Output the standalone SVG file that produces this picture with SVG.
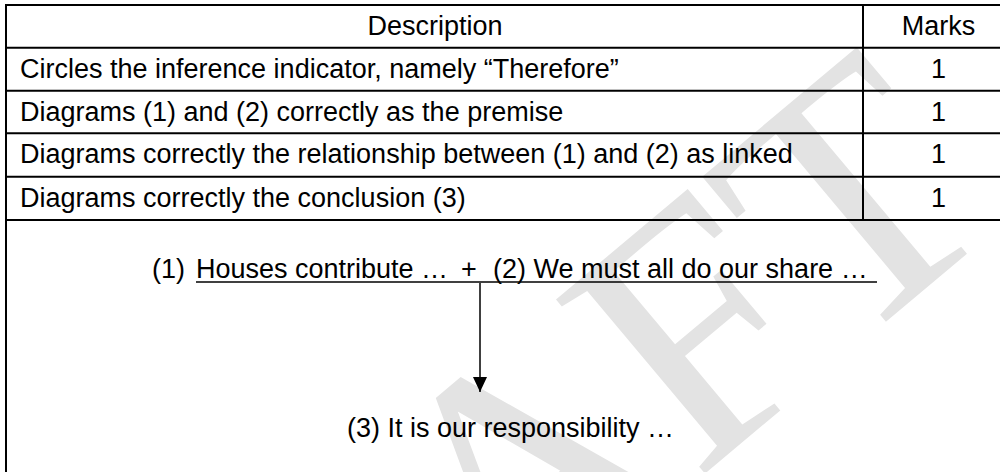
<svg xmlns="http://www.w3.org/2000/svg" width="1000" height="472" viewBox="0 0 1000 472">
  <style>
    .t { font-family: "Liberation Sans", Arial, sans-serif; font-size: 27px; fill: #000; }
    .c { text-anchor: middle; }
    .rule { stroke: #000; stroke-width: 2; fill: none; }
    .thin { stroke: #000; stroke-width: 1.5; fill: none; }
    .wm { font-family: "Liberation Serif", "Times New Roman", serif; font-size: 350px; fill: #e3e3e3; }
  </style>
  <defs>
    <marker id="ah" markerWidth="15" markerHeight="14" refX="15" refY="7" orient="auto" markerUnits="userSpaceOnUse" viewBox="0 0 15 14">
      <path d="M0,0 L15,7 L0,14 Z" fill="#000"/>
    </marker>
  </defs>
  <rect width="1000" height="472" fill="#fff"/>

  <g id="watermark">
    <text class="wm" transform="translate(129.5,956.5) rotate(-40)" x="0" y="0">DRAFT</text>
  </g>

  <g id="table">
    <line class="rule" x1="6" y1="5" x2="1000" y2="5"/>
    <line class="rule" x1="6" y1="4" x2="6" y2="472"/>
    <line class="rule" x1="863" y1="5" x2="863" y2="220"/>
    <line class="rule" x1="6" y1="47.7" x2="1000" y2="47.7"/>
    <line class="rule" x1="6" y1="90.7" x2="1000" y2="90.7"/>
    <line class="rule" x1="6" y1="133.3" x2="1000" y2="133.3"/>
    <line class="rule" x1="6" y1="176.7" x2="1000" y2="176.7"/>
    <line class="rule" x1="6" y1="220" x2="1000" y2="220"/>
    <text class="t c" x="435" y="35">Description</text>
    <text class="t c" x="938.5" y="35">Marks</text>
    <text class="t" x="20" y="77.7">Circles the inference indicator, namely “Therefore”</text>
    <text class="t c" x="938.5" y="77.7">1</text>
    <text class="t" x="20" y="120.7">Diagrams (1) and (2) correctly as the premise</text>
    <text class="t c" x="938.5" y="120.7">1</text>
    <text class="t" x="20" y="163.3">Diagrams correctly the relationship between (1) and (2) as linked</text>
    <text class="t c" x="938.5" y="163.3">1</text>
    <text class="t" x="20" y="206.7">Diagrams correctly the conclusion (3)</text>
    <text class="t c" x="938.5" y="206.7">1</text>
  </g>

  <g id="premises">
    <text class="t" x="152" y="278">(1)</text>
    <text class="t" x="196" y="278">Houses contribute …</text>
    <text class="t" x="461" y="278">+</text>
    <text class="t" x="493" y="278">(2) We must all do our share …</text>
    <line class="thin" x1="196" y1="282" x2="877" y2="282"/>
  </g>

  <g id="conclusion">
    <text class="t" x="347" y="437">(3) It is our responsibility …</text>
  </g>

  <g id="connectors">
    <line class="thin" x1="480" y1="283" x2="480" y2="392" marker-end="url(#ah)"/>
  </g>
</svg>
